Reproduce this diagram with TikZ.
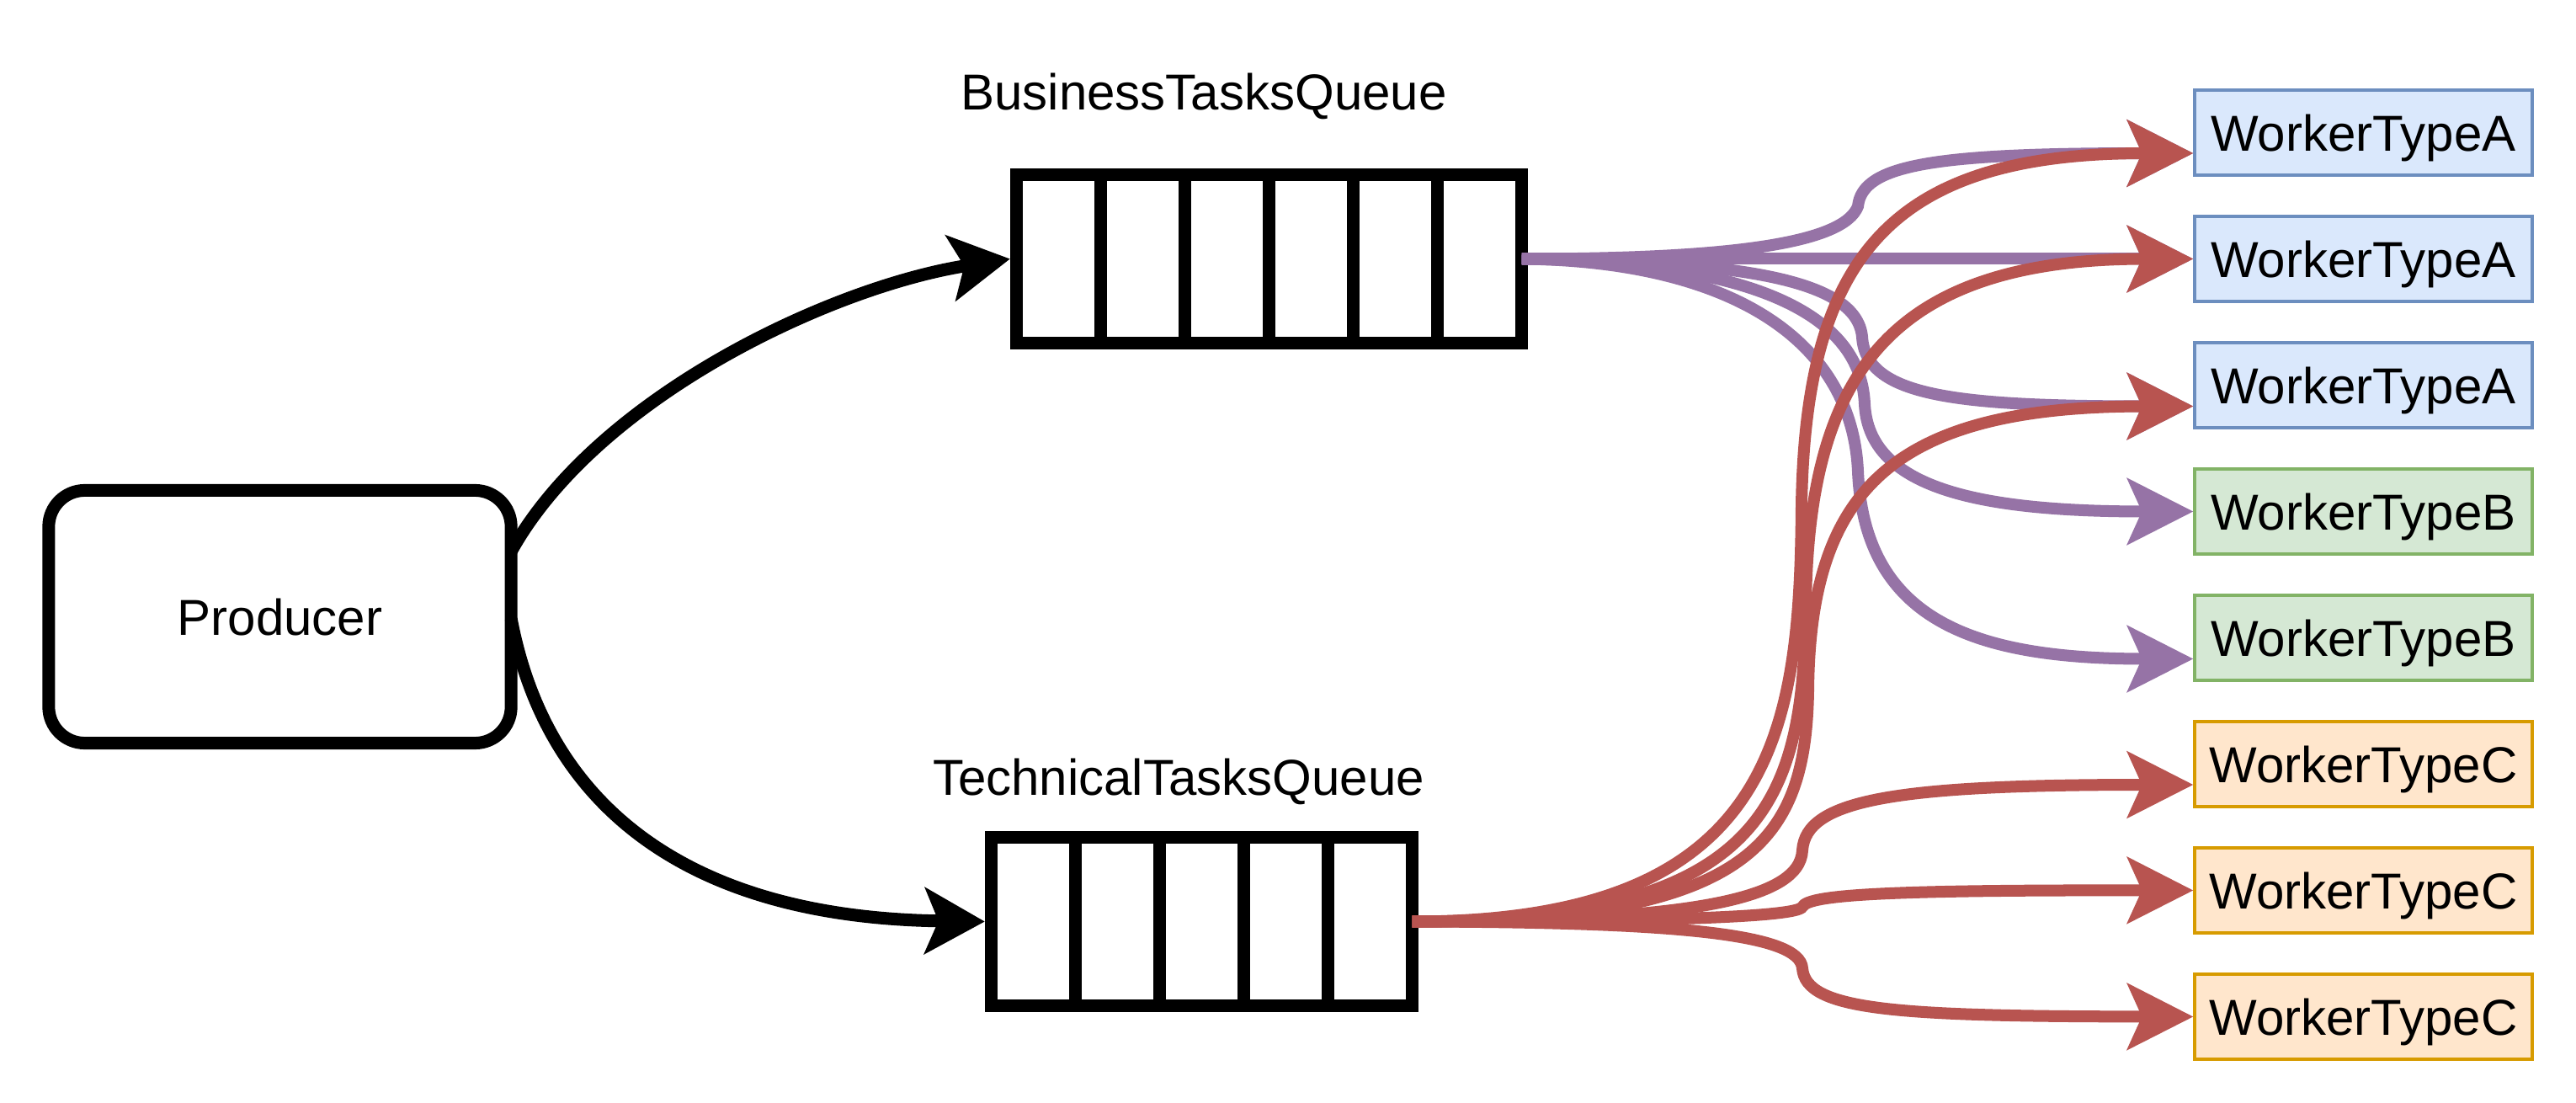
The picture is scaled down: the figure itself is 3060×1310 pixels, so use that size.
\documentclass[tikz,border=0pt]{standalone}
\usepackage{fontspec}
\setmainfont{Liberation Sans}
\usetikzlibrary{arrows.meta,calc}
\definecolor{pur}{HTML}{9673A6}
\definecolor{redl}{HTML}{B85450}
\definecolor{afill}{HTML}{DAE8FC}
\definecolor{aline}{HTML}{6C8EBF}
\definecolor{bfill}{HTML}{D5E8D4}
\definecolor{bline}{HTML}{82B366}
\definecolor{cfill}{HTML}{FFE6CC}
\definecolor{cline}{HTML}{D79B00}
\begin{document}
\begin{tikzpicture}[x=0.01cm,y=-0.01cm,
  big/.style={font=\fontsize{17.07pt}{20pt}\selectfont},
  prodbox/.style={draw, line width=1.5mm, rounded corners=4.3mm, minimum width=54.9mm, minimum height=30mm, inner sep=0pt, text depth=0pt, big},
  queuebox/.style={draw, line width=1.5mm, minimum height=20mm, inner sep=0pt},
  worker/.style={draw, line width=0.4mm, minimum width=40mm, minimum height=10mm, inner sep=0pt, text depth=0pt, big},
  wa/.style={worker, fill=afill, draw=aline},
  wb/.style={worker, fill=bfill, draw=bline},
  wc/.style={worker, fill=cfill, draw=cline},
  conn/.style={line width=1.4mm, -{Stealth[length=7.8mm,width=7.8mm,inset=1.7mm]}},
  pconn/.style={conn, draw=pur},
  rconn/.style={conn, draw=redl},
  bconn/.style={line width=1.5mm, -{Stealth[length=7.1mm,width=7.8mm,inset=1.6mm]}},
  lbl/.style={big, anchor=base, inner sep=0pt},
  divider/.style={line width=1.5mm}
]
\useasboundingbox (0,0) rectangle (3060,1310);
\fill[white] (0,0) rectangle (3060,1310);

% nodes
\node[prodbox] (prod) at (332.5,732.5) {Producer};
\node[queuebox, minimum width=60mm] (bq) at (1507.5,307.5) {};
\node[queuebox, minimum width=50mm] (tq) at (1427.5,1094.5) {};
\foreach \i in {1,...,5} {
  \draw[divider] (1207.5+100*\i,207.5) -- (1207.5+100*\i,407.5);
}
\foreach \i in {1,...,4} {
  \draw[divider] (1177.5+100*\i,994.5) -- (1177.5+100*\i,1194.5);
}
\node[lbl] (bqlabel) at (1430,130.7) {BusinessTasksQueue};
\node[lbl] (tqlabel) at (1400,944.5) {TechnicalTasksQueue};

\node[wa] (w1) at (2807.5,157.5) {WorkerTypeA};
\node[wa] (w2) at (2807.5,307.5) {WorkerTypeA};
\node[wa] (w3) at (2807.5,457.5) {WorkerTypeA};
\node[wb] (w4) at (2807.5,607.5) {WorkerTypeB};
\node[wb] (w5) at (2807.5,757.5) {WorkerTypeB};
\node[wc] (w6) at (2807.5,907.5) {WorkerTypeC};
\node[wc] (w7) at (2807.5,1057.5) {WorkerTypeC};
\node[wc] (w8) at (2807.5,1207.5) {WorkerTypeC};

% producer to queues
\draw[bconn] ([xshift=-0.75mm,yshift=7.75mm]prod.east) .. controls (710,470) and (990,340) .. (bq.west);
\draw[bconn] ([xshift=-0.75mm,yshift=-0.25mm]prod.east) .. controls (650,960) and (820,1090) .. (tq.west);

% business queue (purple)
\draw[pconn] ([xshift=-0.75mm]bq.east) .. controls (2050,307.5) and (2190,290) .. (2207,245) .. controls (2212,195) and (2300,182) .. ([yshift=-2.45mm]w1.west);
\draw[pconn] ([xshift=-0.75mm]bq.east) -- (w2.west);
\draw[pconn] ([xshift=-0.75mm]bq.east) .. controls (2060,310) and (2205,330) .. (2212,400) .. controls (2216,470) and (2320,482.5) .. ([yshift=-2.5mm]w3.west);
\draw[pconn] ([xshift=-0.75mm]bq.east) .. controls (2050,310) and (2210,360) .. (2215,480) .. controls (2220,580) and (2350,607.5) .. (w4.west);
\draw[pconn] ([xshift=-0.75mm]bq.east) .. controls (2050,310) and (2200,400) .. (2207,560) .. controls (2215,740) and (2350,782.5) .. ([yshift=-2.5mm]w5.west);

% technical queue (red)
\draw[rconn] ([xshift=-0.75mm]tq.east) .. controls (2110,1094.5) and (2138,870) .. (2140,600) .. controls (2145,300) and (2250,182) .. ([yshift=-2.45mm]w1.west);
\draw[rconn] ([xshift=-0.75mm]tq.east) .. controls (2100,1094.5) and (2142,950) .. (2145,720) .. controls (2148,450) and (2240,307.5) .. (w2.west);
\draw[rconn] ([xshift=-0.75mm]tq.east) .. controls (2080,1094.5) and (2145,1000) .. (2148,820) .. controls (2150,580) and (2250,482.5) .. ([yshift=-2.5mm]w3.west);
\draw[rconn] ([xshift=-0.75mm]tq.east) .. controls (2000,1094) and (2138,1070) .. (2141,1010) .. controls (2145,950) and (2250,932) .. ([yshift=-2.45mm]w6.west);
\draw[rconn] ([xshift=-0.75mm]tq.east) .. controls (1950,1094.5) and (2135,1090) .. (2141,1077) .. controls (2148,1062) and (2250,1057) .. (w7.west);
\draw[rconn] ([xshift=-0.75mm]tq.east) .. controls (2000,1095) and (2138,1110) .. (2141,1150) .. controls (2145,1200) and (2250,1207) .. (w8.west);
\end{tikzpicture}
\end{document}
